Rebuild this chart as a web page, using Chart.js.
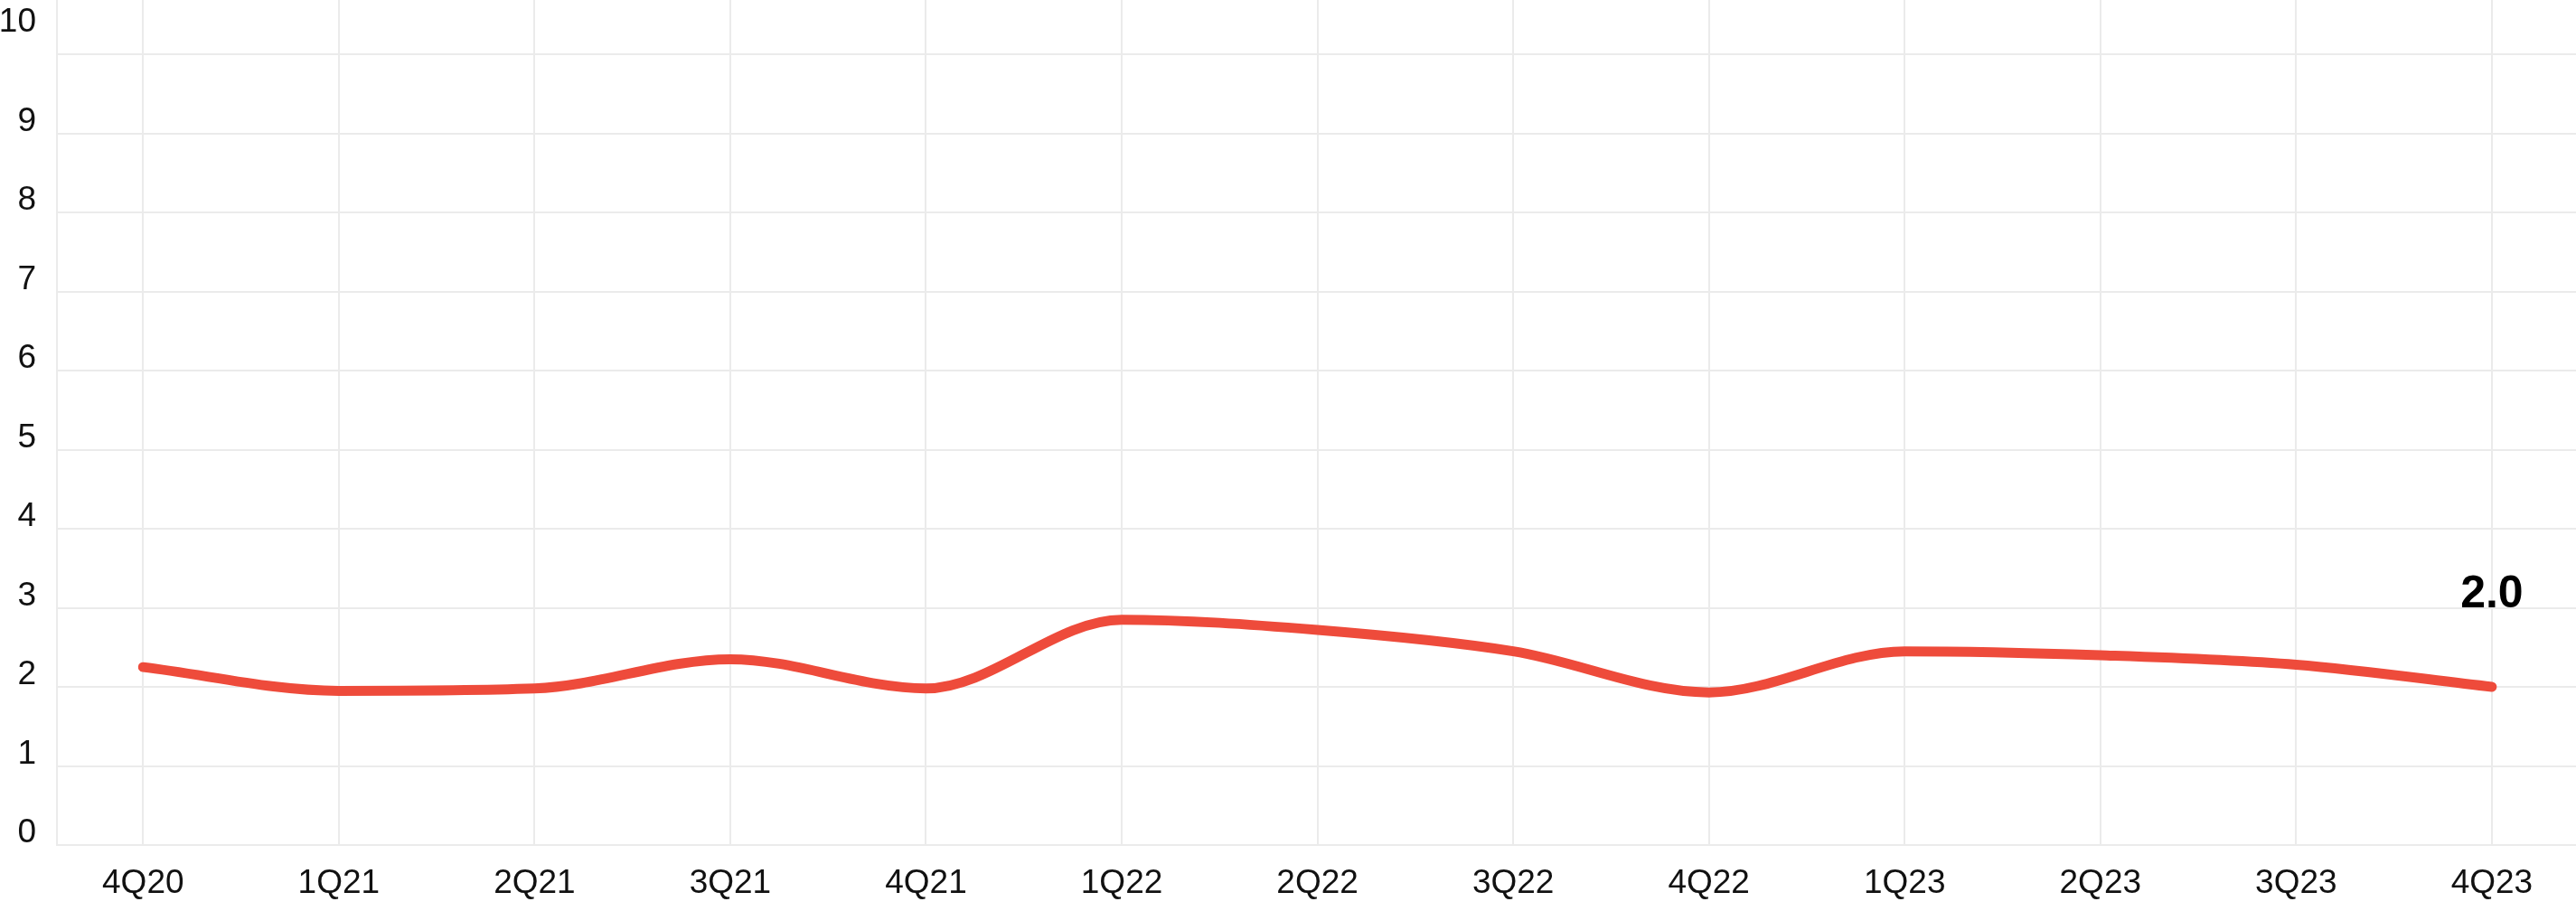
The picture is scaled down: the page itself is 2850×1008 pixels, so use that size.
<!DOCTYPE html>
<html>
<head>
<meta charset="utf-8">
<script src="https://cdn.jsdelivr.net/npm/chart.js@4/dist/chart.umd.min.js"></script>
<style>
  html, body { margin: 0; padding: 0; background: #fff; }
  #wrap { width: 2850px; height: 1008px; }
</style>
</head>
<body>
<div id="wrap"><canvas id="rateChart" width="2850" height="1008"></canvas></div>
<script>
const quarters = ['4Q20', '1Q21', '2Q21', '3Q21', '4Q21', '1Q22', '2Q22', '3Q22', '4Q22', '1Q23', '2Q23', '3Q23', '4Q23'];
const values = [2.25, 1.95, 1.98, 2.35, 1.98, 2.85, 2.72, 2.45, 1.93, 2.45, 2.40, 2.28, 2.0];
const yMin = 0;
const yMax = 10;

const gridColor = '#ebebeb';
const lineColor = '#ee4b3b';
const fontFamily = '"Liberation Sans", Arial, sans-serif';

// writes the last value above the end of the line
const lastValueLabel = {
  id: 'lastValueLabel',
  afterDatasetsDraw(chart) {
    const meta = chart.getDatasetMeta(0);
    const last = meta.data[meta.data.length - 1];
    const ctx = chart.ctx;
    ctx.save();
    ctx.font = 'bold 50px ' + fontFamily;
    ctx.fillStyle = '#000';
    ctx.textAlign = 'center';
    ctx.textBaseline = 'middle';
    ctx.fillText(values[values.length - 1].toFixed(1), last.x, last.y - 102);
    ctx.restore();
  }
};

const ctx = document.getElementById('rateChart').getContext('2d');

const rateChart = new Chart(ctx, {
  type: 'line',
  data: {
    datasets: [{
      data: values.map((v, i) => ({ x: i, y: v })),
      borderColor: lineColor,
      borderWidth: 11,
      borderCapStyle: 'round',
      borderJoinStyle: 'round',
      cubicInterpolationMode: 'monotone',
      pointRadius: 0,
      fill: false
    }]
  },
  options: {
    responsive: false,
    animation: false,
    layout: { padding: 0 },
    plugins: {
      legend: { display: false },
      tooltip: { enabled: false }
    },
    scales: {
      x: {
        type: 'linear',
        min: -0.44,
        max: quarters.length - 1 + 0.43,
        grid: { color: gridColor, lineWidth: 2, drawTicks: false },
        border: { color: gridColor, width: 2 },
        ticks: {
          stepSize: 1,
          includeBounds: false,
          padding: 21,
          color: '#111',
          font: { family: fontFamily, size: 37 },
          maxRotation: 0,
          autoSkip: false,
          callback: (value) => quarters[value]
        },
        afterBuildTicks: (scale) => {
          scale.ticks = scale.ticks.filter(t => Number.isInteger(t.value));
        },
        afterFit: (scale) => {
          scale.height = 73;
          scale.paddingLeft = 0;
          scale.paddingRight = 0;
        }
      },
      y: {
        min: yMin,
        max: yMax + 0.686,
        grid: { color: gridColor, lineWidth: 2, drawTicks: false },
        border: { color: gridColor, width: 2 },
        ticks: {
          stepSize: 1,
          includeBounds: false,
          autoSkip: false,
          padding: 23,
          labelOffset: -13,
          color: '#111',
          font: { family: fontFamily, size: 37 },
          callback: (value) => value === yMax ? [String(value), ''] : String(value)
        },
        afterBuildTicks: (scale) => {
          scale.ticks = scale.ticks.filter(t => Number.isInteger(t.value));
        },
        afterFit: (scale) => {
          scale.width = 63;
          scale.paddingTop = 0;
          scale.paddingBottom = 0;
        }
      }
    }
  },
  plugins: [lastValueLabel]
});
</script>
</body>
</html>
